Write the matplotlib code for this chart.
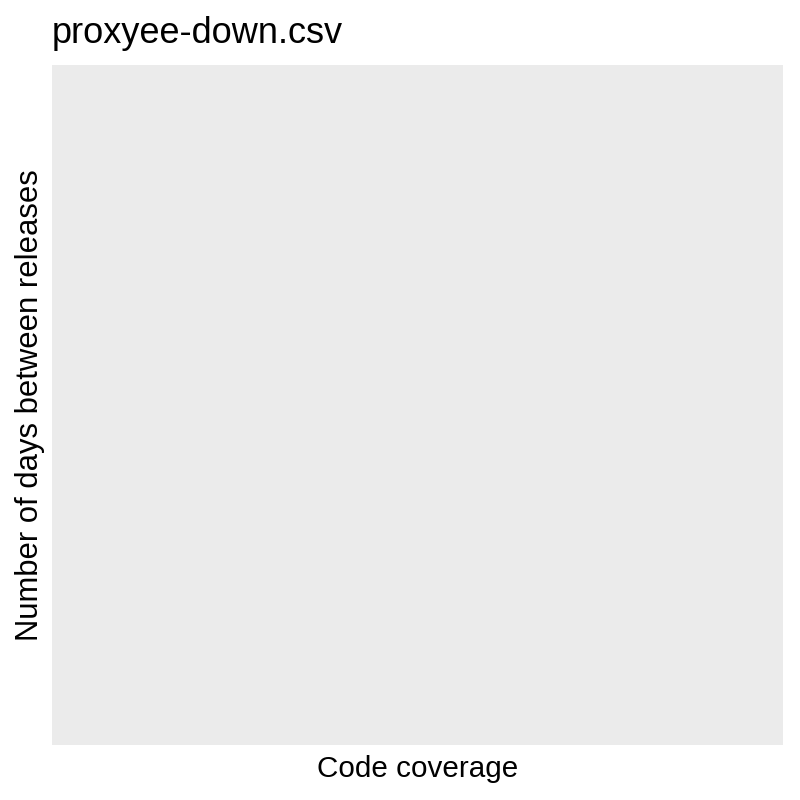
import matplotlib
matplotlib.use("Agg")
import matplotlib.pyplot as plt

# the source csv has no rows, so the panel stays empty
coverage = []
days_between = []

plt.rcParams['font.family'] = ['Liberation Sans', 'DejaVu Sans']

fig = plt.figure(figsize=(8, 8), dpi=100)
ax = fig.add_axes([52 / 800, 55 / 800, 731 / 800, 680 / 800])
ax.set_facecolor('#EBEBEB')
ax.scatter(coverage, days_between, color='black')

for s in ax.spines.values():
    s.set_visible(False)
ax.set_xticks([])
ax.set_yticks([])

ax.set_xlabel('Code coverage', fontsize=21.3, labelpad=7)
ax.set_ylabel('Number of days between releases', fontsize=22.3, labelpad=5)
ax.set_title('proxyee-down.csv', fontsize=26, loc='left', pad=16)

fig.savefig('out.png', dpi=100, facecolor='white')
